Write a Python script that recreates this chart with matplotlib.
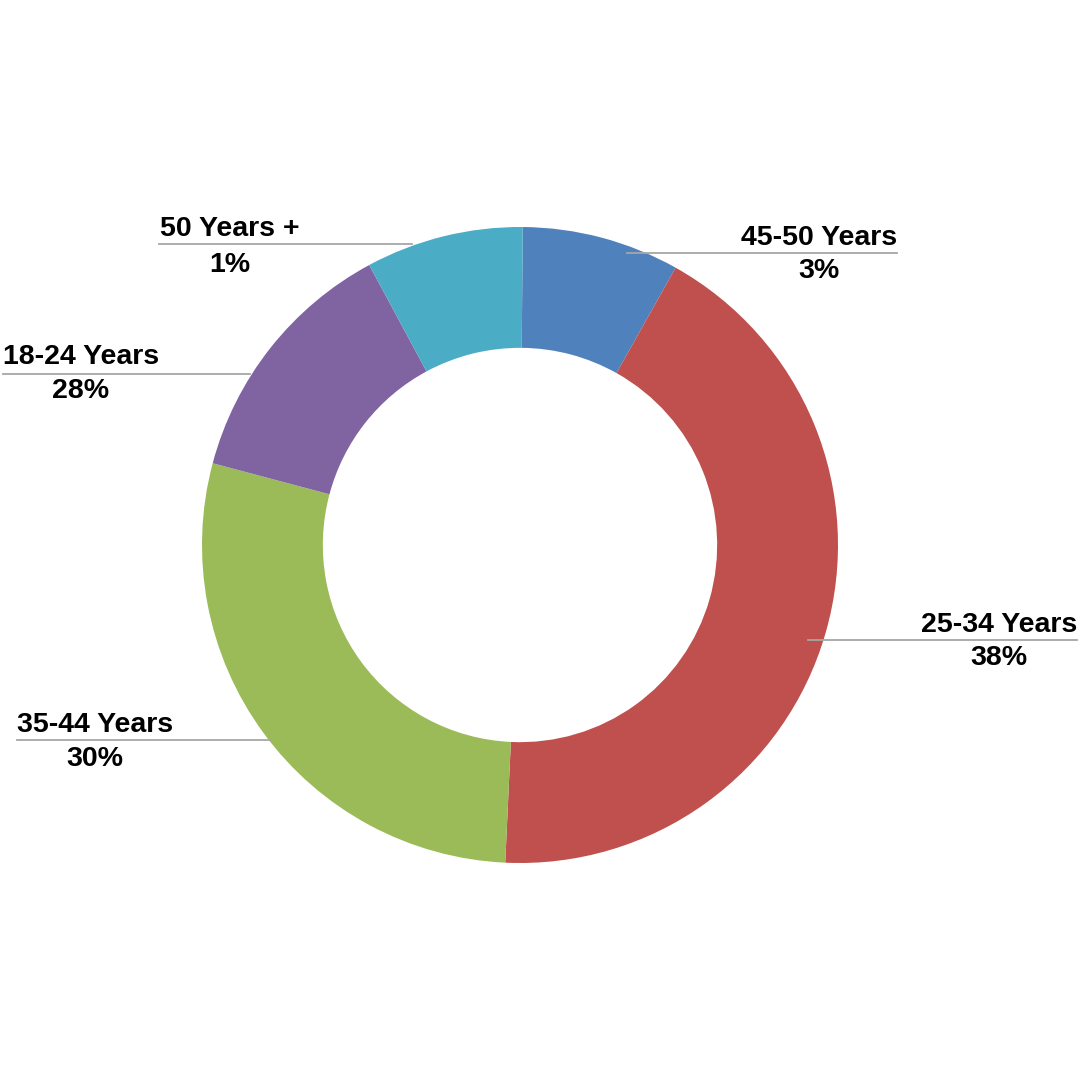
import matplotlib.pyplot as plt

# slices in drawing order, clockwise from the top
groups = ['45-50 Years', '25-34 Years', '35-44 Years', '18-24 Years', '50 Years +']
shares = [8.0, 42.6, 28.4, 13.0, 8.0]          # visual slice sizes read from the ring
pct_labels = ['3%', '38%', '30%', '28%', '1%']  # printed labels
colors = ['#4F81BD', '#C0504D', '#9BBB59', '#8064A2', '#4BACC6']

# pixel layout of the reference (1080x1080)
cx, cy, R = 520, 545, 318


def px(x, y):
    return (x - cx) / R, (cy - y) / R


fig = plt.figure(figsize=(10.8, 10.8), dpi=100)
ax = fig.add_axes([0, 0, 1, 1])

ax.pie(shares, colors=colors, startangle=89.5, counterclock=False,
       radius=1.0, wedgeprops=dict(width=0.38, linewidth=0))

# pie resets the limits, so set them afterwards
ax.set_xlim(px(0, 0)[0], px(1080, 0)[0])
ax.set_ylim(px(0, 1080)[1], px(0, 0)[1])
ax.set_aspect('equal')
ax.axis('off')

# label layout: line y, line x0, line x1, text centre x, name y, pct y
lay = {
    '50 Years +':  (244, 159, 412, 230, 229, 265),
    '45-50 Years': (253, 627, 897, 819, 238, 271),
    '18-24 Years': (374, 3, 250, 81, 357, 391),
    '25-34 Years': (640, 808, 1077, 999, 625, 658),
    '35-44 Years': (740, 17, 270, 95, 725, 759),
}

font = dict(family=['Liberation Sans', 'DejaVu Sans'], fontsize=20.5,
            fontweight='bold', color='black', ha='center', va='center')

for g, p in zip(groups, pct_labels):
    ly, x0, x1, tx, ny, py = lay[g]
    a = px(x0, ly)
    b = px(x1, ly)
    ax.plot([a[0], b[0]], [a[1], b[1]], color='#A6A6A6', lw=1.3, zorder=5)
    ax.text(*px(tx, ny), g, **font)
    ax.text(*px(tx, py), p, **font)

fig.savefig('out.png', dpi=100, facecolor='white')
